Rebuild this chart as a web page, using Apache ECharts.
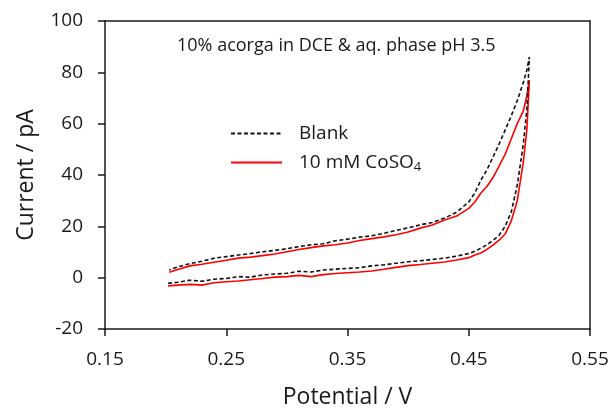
<!DOCTYPE html>
<html>
<head>
<meta charset="utf-8">
<script src="https://cdn.jsdelivr.net/npm/echarts@6/dist/echarts.min.js"></script>
<style>
  html, body { margin: 0; padding: 0; background: #fff; }
  #main { width: 613px; height: 416px; }
</style>
</head>
<body>
<div id="main"></div>
<script>
  // potential sweep (V): forward branch then reverse branch
  var fwdV = [0.202, 0.21, 0.22, 0.23, 0.24, 0.25, 0.26, 0.27, 0.28, 0.29, 0.30, 0.31, 0.32, 0.33, 0.34, 0.35, 0.36, 0.37, 0.38, 0.39, 0.40, 0.41, 0.42, 0.43, 0.44, 0.45, 0.455, 0.46, 0.465, 0.47, 0.475, 0.48, 0.485, 0.49, 0.495, 0.498, 0.5];
  var revV = [0.5, 0.498, 0.495, 0.49, 0.485, 0.48, 0.475, 0.47, 0.465, 0.46, 0.455, 0.45, 0.44, 0.43, 0.42, 0.41, 0.40, 0.39, 0.38, 0.37, 0.36, 0.35, 0.34, 0.33, 0.32, 0.31, 0.30, 0.29, 0.28, 0.27, 0.26, 0.25, 0.24, 0.23, 0.22, 0.21, 0.203];

  // current (pA)
  var blankFwd = [-2.2, -1.8, -1.0, -1.4, -0.6, -0.3, 0.4, 0.2, 1.1, 1.4, 1.7, 2.5, 2.2, 3.0, 3.3, 3.6, 3.9, 4.6, 5.0, 5.6, 6.2, 6.6, 7.1, 7.6, 8.4, 9.4, 10.3, 11.5, 12.8, 14.5, 16.5, 20.0, 25.5, 36, 52, 66, 86];
  var blankRev = [86, 81, 76, 69, 63, 57.5, 52, 47, 42, 38, 33, 29.5, 25.5, 23.2, 21.5, 20.6, 19.4, 18.4, 17.3, 16.3, 15.8, 15.0, 14.4, 13.2, 12.8, 12.1, 11.3, 10.6, 10.1, 9.4, 8.8, 8.2, 7.6, 6.4, 5.5, 4.2, 3.0];
  var cosoFwd = [-3.2, -2.9, -2.6, -2.9, -2.0, -1.6, -1.3, -0.8, -0.3, 0.2, 0.4, 0.9, 0.4, 1.2, 1.6, 1.9, 2.2, 2.6, 3.3, 4.0, 4.7, 5.1, 5.6, 6.1, 6.9, 7.8, 8.8, 9.6, 11.0, 12.7, 14.6, 17.0, 22, 30, 45, 58, 77];
  var cosoRev = [77, 71, 65, 60, 54, 48, 43.5, 39, 35.5, 33, 29.5, 27, 24, 22.5, 20.5, 19.3, 17.8, 16.7, 15.9, 15.2, 14.5, 13.5, 12.8, 12.4, 11.7, 11.0, 10.1, 9.2, 8.6, 8.0, 7.6, 6.8, 6.0, 5.2, 4.6, 3.2, 2.1];

  var seriesNames = ['Blank', '10 mM CoSO4'];
  var xTicks = [0.15, 0.25, 0.35, 0.45, 0.55];
  var yTicks = [-20, 0, 20, 40, 60, 80, 100];

  function loop(fwdI, revI) {
    var pts = [];
    fwdV.forEach(function (v, i) { pts.push([v, fwdI[i]]); });
    revV.forEach(function (v, i) { pts.push([v, revI[i]]); });
    return pts;
  }

  var font = 'Open Sans, Liberation Sans, sans-serif';
  var ink = '#1a1a1a';
  var frameLine = { show: true, onZero: false, lineStyle: { color: ink, width: 1.5 } };

  var myChart = echarts.init(document.getElementById('main'));
  myChart.setOption({
    animation: false,
    backgroundColor: '#fff',
    title: {
      text: '10% acorga in DCE & aq. phase pH 3.5',
      left: 172,
      top: 32,
      textStyle: { fontFamily: font, fontSize: 18, fontWeight: 'normal', color: ink }
    },
    legend: {
      orient: 'vertical',
      left: 225,
      top: 119,
      itemWidth: 51,
      itemHeight: 14,
      itemGap: 10,
      data: seriesNames,
      itemStyle: { opacity: 0 },
      formatter: function (name) {
        return name === seriesNames[1] ? '10 mM CoSO{sub|4}' : name;
      },
      textStyle: {
        fontFamily: font, fontSize: 19, color: ink, padding: [0, 0, 0, 12],
        rich: { sub: { fontFamily: font, fontSize: 13, color: ink, padding: [10, 0, 0, 0] } }
      }
    },
    grid: { left: 105, right: 23, top: 21, bottom: 87, outerBoundsMode: 'none', containLabel: false },
    xAxis: [
      {
        type: 'value',
        min: xTicks[0],
        max: xTicks[xTicks.length - 1],
        interval: 0.1,
        name: 'Potential / V',
        nameLocation: 'middle',
        nameGap: 57,
        nameTextStyle: { fontFamily: font, fontSize: 23, color: ink },
        axisLine: frameLine,
        axisTick: { length: 7, lineStyle: { color: ink, width: 1.5 } },
        axisLabel: {
          fontFamily: font, fontSize: 19, color: ink, margin: 21,
          formatter: function (v) { return v.toFixed(2); }
        },
        splitLine: { show: false }
      },
      {
        type: 'value', position: 'top',
        min: xTicks[0], max: xTicks[xTicks.length - 1],
        axisLine: frameLine, axisTick: { show: false }, axisLabel: { show: false }, splitLine: { show: false }
      }
    ],
    yAxis: [
      {
        type: 'value',
        min: yTicks[0],
        max: yTicks[yTicks.length - 1],
        interval: 20,
        name: 'Current / pA',
        nameLocation: 'middle',
        nameGap: 67,
        nameTextStyle: { fontFamily: font, fontSize: 23, color: ink },
        axisLine: frameLine,
        axisTick: { length: 7, lineStyle: { color: ink, width: 1.5 } },
        axisLabel: { fontFamily: font, fontSize: 19, color: ink, margin: 22 },
        splitLine: { show: false }
      },
      {
        type: 'value', position: 'right',
        min: yTicks[0], max: yTicks[yTicks.length - 1],
        axisLine: frameLine, axisTick: { show: false }, axisLabel: { show: false }, splitLine: { show: false }
      }
    ],
    series: [
      {
        name: seriesNames[0],
        type: 'line',
        data: loop(blankFwd, blankRev),
        showSymbol: false,
        symbol: 'none',
        z: 3,
        lineStyle: { color: '#111', width: 1.6, type: [4, 2.5] },
        itemStyle: { color: '#111' }
      },
      {
        name: seriesNames[1],
        type: 'line',
        data: loop(cosoFwd, cosoRev),
        showSymbol: false,
        symbol: 'none',
        z: 2,
        lineStyle: { color: '#ff0000', width: 1.6 },
        itemStyle: { color: '#ff0000' }
      }
    ]
  });
</script>
</body>
</html>
